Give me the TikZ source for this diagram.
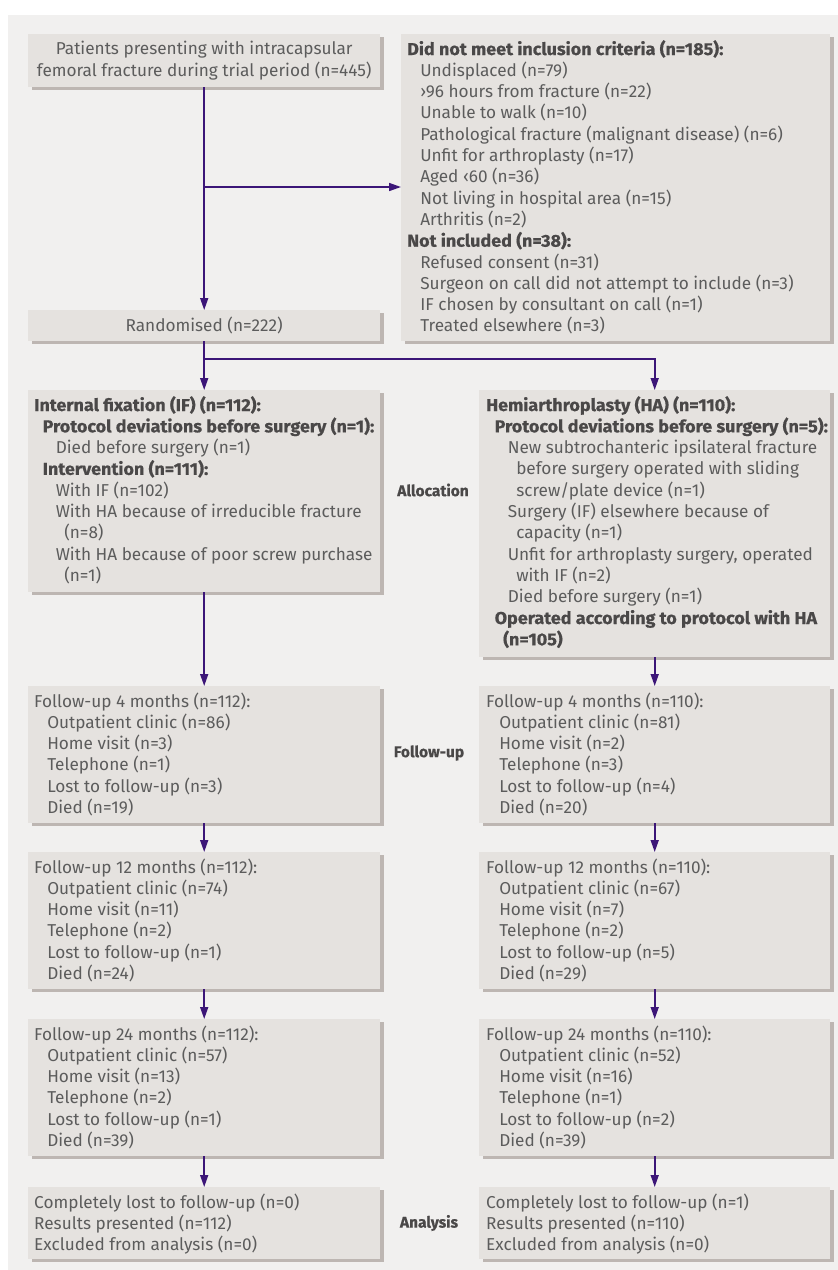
\documentclass[tikz,border=0pt]{standalone}
\usepackage{fontspec}
\setmainfont{Fira Sans}
\newfontfamily\widefont{Fira Sans}[FakeStretch=1.045, BoldFeatures={FakeBold=0.6}]
\newfontfamily\lblfont{Fira Sans}[BoldFeatures={FakeBold=0.6}]
\usetikzlibrary{arrows.meta,shadows}
\definecolor{bgc}{HTML}{F1F0EF}
\definecolor{boxc}{HTML}{E5E2DF}
\definecolor{shc}{HTML}{BDB6B2}
\definecolor{txtc}{HTML}{5C5C5C}
\definecolor{hdc}{HTML}{4A4848}
\definecolor{arrc}{HTML}{3C1678}
\newcommand\ind[1]{\hspace*{#1\dimexpr 8.5pt\relax}}
\newcommand\hd[1]{{\widefont\bfseries\color{hdc}#1}}
\newcommand\mybox[5]{%
  \node[bx, minimum width={(#4-#2)*1pt}, minimum height={(#5-#3)*1pt}] (#1) at (#2,#3) {};}
\newcommand\mytext[5]{%
  \node[txt] (#1) at (#2,#3) {\parbox[t]{#4pt}{\raggedright\leavevmode #5}};}
\begin{document}
\begin{tikzpicture}[x=1pt,y=-1pt,
  bx/.style={fill=boxc, draw=none, inner sep=0pt, anchor=north west,
     drop shadow={shadow xshift=4pt, shadow yshift=-3pt, fill=shc, opacity=1}},
  txt/.style={anchor=base west, inner sep=0pt, text=txtc,
     font=\fontsize{17.2}{21.3}\selectfont},
  ctxt/.style={inner sep=0pt, text=txtc, align=center,
     font=\fontsize{17.2}{21.3}\selectfont},
  lbl/.style={inner sep=0pt, text=hdc, font=\fontsize{15.5}{21.3}\selectfont\lblfont\bfseries},
  arr/.style={draw=arrc, line width=1.6pt, -{Triangle[length=12pt,width=8pt]}}]
\useasboundingbox (0,0) rectangle (838,1270);
\fill[bgc] (8,15) rectangle (838,1270);

% boxes
\mybox{pat}{28}{34}{380}{87}
\mybox{excl}{401}{34}{830}{341}
\mybox{rand}{28}{310}{380}{341}
\mybox{IF}{28}{390}{380}{592}
\mybox{HA}{479}{390}{830}{657}
\mybox{fAL}{28}{686}{380}{823}
\mybox{fAR}{479}{686}{830}{823}
\mybox{fBL}{28}{852}{380}{989}
\mybox{fBR}{479}{852}{830}{989}
\mybox{fCL}{28}{1019}{380}{1156}
\mybox{fCR}{479}{1019}{830}{1156}
\mybox{anL}{28}{1187}{380}{1259}
\mybox{anR}{479}{1187}{830}{1259}

% texts
\node[ctxt] (pat-t) at (pat.center) {Patients presenting with intracapsular\\femoral fracture during trial period (n=445)};
\node[ctxt] (rand-t) at (rand.center) {Randomised (n=222)};

\mytext{excl-t}{407}{55}{440}{\hd{Did not meet inclusion criteria (n=185):}\\
\ind1 Undisplaced (n=79)\\
\ind1 ›96 hours from fracture (n=22)\\
\ind1 Unable to walk (n=10)\\
\ind1 Pathological fracture (malignant disease) (n=6)\\
\ind1 Unfit for arthroplasty (n=17)\\
\ind1 Aged ‹60 (n=36)\\
\ind1 Not living in hospital area (n=15)\\
\ind1 Arthritis (n=2)\\
\hd{Not included (n=38):}\\
\ind1 Refused consent (n=31)\\
\ind1 Surgeon on call did not attempt to include (n=3)\\
\ind1 IF chosen by consultant on call (n=1)\\
\ind1 Treated elsewhere (n=3)}

\mytext{IF-t}{34}{411}{420}{\hd{Internal fixation (IF) (n=112):}\\
\ind1\hd{Protocol deviations before surgery (n=1):}\\
\ind2 Died before surgery (n=1)\\
\ind1\hd{Intervention (n=111):}\\
\ind2 With IF (n=102)\\
\ind2 With HA because of irreducible fracture\\
\ind3 (n=8)\\
\ind2 With HA because of poor screw purchase\\
\ind3 (n=1)}

\mytext{HA-t}{486}{411}{420}{\hd{Hemiarthroplasty (HA) (n=110):}\\
\ind1\hd{Protocol deviations before surgery (n=5):}\\
\ind2 New subtrochanteric ipsilateral fracture\\
\ind3 before surgery operated with sliding\\
\ind3 screw/plate device (n=1)\\
\ind2 Surgery (IF) elsewhere because of\\
\ind3 capacity (n=1)\\
\ind2 Unfit for arthroplasty surgery, operated\\
\ind3 with IF (n=2)\\
\ind2 Died before surgery (n=1)\\
\ind1\hd{Operated according to protocol with HA}\\
\ind2\hd{(n=105)}}

\mytext{fAL-t}{34}{707}{344}{Follow-up 4 months (n=112):\\
\ind1 Outpatient clinic (n=86)\\
\ind1 Home visit (n=3)\\
\ind1 Telephone (n=1)\\
\ind1 Lost to follow-up (n=3)\\
\ind1 Died (n=19)}
\mytext{fAR-t}{486}{707}{342}{Follow-up 4 months (n=110):\\
\ind1 Outpatient clinic (n=81)\\
\ind1 Home visit (n=2)\\
\ind1 Telephone (n=3)\\
\ind1 Lost to follow-up (n=4)\\
\ind1 Died (n=20)}

\mytext{fBL-t}{34}{873}{344}{Follow-up 12 months (n=112):\\
\ind1 Outpatient clinic (n=74)\\
\ind1 Home visit (n=11)\\
\ind1 Telephone (n=2)\\
\ind1 Lost to follow-up (n=1)\\
\ind1 Died (n=24)}
\mytext{fBR-t}{486}{873}{342}{Follow-up 12 months (n=110):\\
\ind1 Outpatient clinic (n=67)\\
\ind1 Home visit (n=7)\\
\ind1 Telephone (n=2)\\
\ind1 Lost to follow-up (n=5)\\
\ind1 Died (n=29)}

\mytext{fCL-t}{34}{1040}{344}{Follow-up 24 months (n=112):\\
\ind1 Outpatient clinic (n=57)\\
\ind1 Home visit (n=13)\\
\ind1 Telephone (n=2)\\
\ind1 Lost to follow-up (n=1)\\
\ind1 Died (n=39)}
\mytext{fCR-t}{486}{1040}{342}{Follow-up 24 months (n=110):\\
\ind1 Outpatient clinic (n=52)\\
\ind1 Home visit (n=16)\\
\ind1 Telephone (n=1)\\
\ind1 Lost to follow-up (n=2)\\
\ind1 Died (n=39)}

\mytext{anL-t}{34}{1208}{344}{Completely lost to follow-up (n=0)\\
Results presented (n=112)\\
Excluded from analysis (n=0)}
\mytext{anR-t}{486}{1208}{342}{Completely lost to follow-up (n=1)\\
Results presented (n=110)\\
Excluded from analysis (n=0)}

% stage labels
\node[lbl] (l-alloc) at (433,490) {Allocation};
\node[lbl] (l-follow) at (429,753) {Follow-up};
\node[lbl] (l-anal) at (429,1223) {Analysis};

% connectors
\coordinate (b1) at (204,187);
\coordinate (b2) at (204,359);
\draw[arr] (pat.south) -- (rand.north);
\draw[arr] (b1) -- (b1 -| excl.west);
\draw[arr] (rand.south) -- (IF.north);
\draw[arr] (b2) -| (HA.north);
\draw[arr] (IF.south) -- (fAL.north);
\draw[arr] (HA.south) -- (fAR.north);
\draw[arr] (fAL.south) -- (fBL.north);
\draw[arr] (fAR.south) -- (fBR.north);
\draw[arr] (fBL.south) -- (fCL.north);
\draw[arr] (fBR.south) -- (fCR.north);
\draw[arr] (fCL.south) -- (anL.north);
\draw[arr] (fCR.south) -- (anR.north);
\end{tikzpicture}
\end{document}
